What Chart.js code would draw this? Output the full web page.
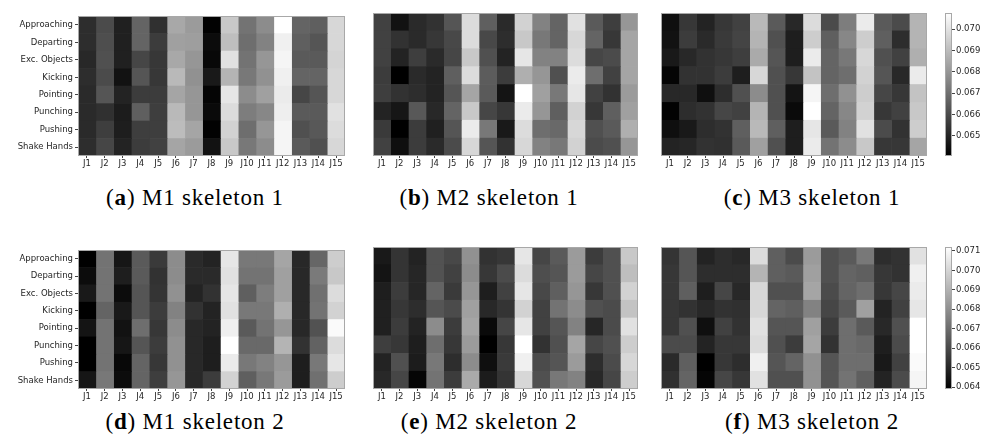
<!DOCTYPE html>
<html>
<head>
<meta charset="utf-8">
<script src="https://cdn.jsdelivr.net/npm/chart.js@4.4.1/dist/chart.umd.min.js"></script>
<style>
  body { margin: 0; background: #fff; width: 988px; height: 443px; position: relative; overflow: hidden; }
  canvas { position: absolute; }
  .cap { position: absolute; width: 320px; text-align: center; font-family: "Liberation Serif", serif; font-size: 23px; line-height: 23px; letter-spacing: 0.8px; color: #000; white-space: nowrap; }
</style>
</head>
<body>
<canvas id="hmA" width="349" height="163" style="left:0px;top:9px"></canvas>
<canvas id="hmB" width="273" height="163" style="left:369px;top:9px"></canvas>
<canvas id="hmC" width="274" height="163" style="left:657px;top:9px"></canvas>
<canvas id="cb1" width="43" height="159" style="left:945px;top:5px"></canvas>
<canvas id="hmD" width="349" height="162" style="left:0px;top:243px"></canvas>
<canvas id="hmE" width="273" height="162" style="left:369px;top:243px"></canvas>
<canvas id="hmF" width="274" height="162" style="left:657px;top:243px"></canvas>
<canvas id="cb2" width="43" height="158" style="left:945px;top:239px"></canvas>

<div class="cap" style="left:35px;top:186px">(<b>a</b>) M1 skeleton 1</div>
<div class="cap" style="left:329px;top:186px">(<b>b</b>) M2 skeleton 1</div>
<div class="cap" style="left:652px;top:186px">(<b>c</b>) M3 skeleton 1</div>
<div class="cap" style="left:35px;top:410px">(<b>d</b>) M1 skeleton 2</div>
<div class="cap" style="left:329px;top:410px">(<b>e</b>) M2 skeleton 2</div>
<div class="cap" style="left:652px;top:410px">(<b>f</b>) M3 skeleton 2</div>

<script>
// etiquetas
const rowLabels = ['Approaching', 'Departing', 'Exc. Objects', 'Kicking', 'Pointing', 'Punching', 'Pushing', 'Shake Hands'];
const colLabels = ['J1', 'J2', 'J3', 'J4', 'J5', 'J6', 'J7', 'J8', 'J9', 'J10', 'J11', 'J12', 'J13', 'J14', 'J15'];

// rango de color de cada fila de la figura + ticks de la barra
const range1 = [0.06405, 0.07075];
const range2 = [0.0639, 0.0712];
const cbarTicks1 = [0.065, 0.066, 0.067, 0.068, 0.069, 0.070];
const cbarTicks2 = [0.064, 0.065, 0.066, 0.067, 0.068, 0.069, 0.070, 0.071];

// M1 skeleton 1 (una fila por accion, J1..J15)
const m1s1 = [
  [0.06523, 0.06602, 0.06489, 0.06668, 0.06531, 0.06846, 0.06812, 0.06410, 0.06930, 0.06707, 0.06773, 0.07075, 0.06668, 0.06655, 0.06970],
  [0.06523, 0.06610, 0.06489, 0.06668, 0.06563, 0.06825, 0.06820, 0.06437, 0.06904, 0.06694, 0.06747, 0.07035, 0.06655, 0.06628, 0.06970],
  [0.06510, 0.06615, 0.06489, 0.06589, 0.06549, 0.06846, 0.06799, 0.06426, 0.06996, 0.06707, 0.06799, 0.07049, 0.06641, 0.06641, 0.06962],
  [0.06523, 0.06602, 0.06452, 0.06628, 0.06549, 0.06891, 0.06786, 0.06471, 0.06878, 0.06720, 0.06786, 0.07035, 0.06668, 0.06668, 0.06970],
  [0.06515, 0.06628, 0.06497, 0.06563, 0.06563, 0.06838, 0.06799, 0.06418, 0.07009, 0.06773, 0.06825, 0.07022, 0.06589, 0.06628, 0.06970],
  [0.06515, 0.06531, 0.06479, 0.06655, 0.06568, 0.06891, 0.06799, 0.06431, 0.06983, 0.06733, 0.06760, 0.07030, 0.06641, 0.06641, 0.06996],
  [0.06515, 0.06568, 0.06484, 0.06568, 0.06568, 0.06899, 0.06838, 0.06410, 0.06957, 0.06694, 0.06799, 0.07049, 0.06615, 0.06636, 0.06983],
  [0.06523, 0.06589, 0.06497, 0.06563, 0.06576, 0.06838, 0.06812, 0.06452, 0.06930, 0.06720, 0.06773, 0.07049, 0.06641, 0.06615, 0.06970]
];

// M2 skeleton 1
const m2s1 = [
  [0.06576, 0.06452, 0.06515, 0.06536, 0.06628, 0.06983, 0.06655, 0.06515, 0.06957, 0.06747, 0.06668, 0.06996, 0.06641, 0.06568, 0.06799],
  [0.06576, 0.06536, 0.06515, 0.06549, 0.06594, 0.06983, 0.06594, 0.06523, 0.06930, 0.06720, 0.06668, 0.06970, 0.06668, 0.06549, 0.06838],
  [0.06576, 0.06497, 0.06568, 0.06515, 0.06589, 0.06930, 0.06615, 0.06497, 0.07009, 0.06747, 0.06747, 0.06983, 0.06589, 0.06602, 0.06838],
  [0.06563, 0.06405, 0.06515, 0.06497, 0.06655, 0.06983, 0.06647, 0.06563, 0.06865, 0.06799, 0.06615, 0.07022, 0.06694, 0.06576, 0.06838],
  [0.06568, 0.06536, 0.06523, 0.06497, 0.06628, 0.06838, 0.06641, 0.06458, 0.07075, 0.06825, 0.06720, 0.07009, 0.06576, 0.06536, 0.06812],
  [0.06497, 0.06463, 0.06636, 0.06510, 0.06668, 0.06930, 0.06589, 0.06549, 0.07022, 0.06799, 0.06655, 0.06957, 0.06549, 0.06655, 0.06825],
  [0.06557, 0.06405, 0.06563, 0.06489, 0.06628, 0.07022, 0.06720, 0.06471, 0.06983, 0.06694, 0.06681, 0.06970, 0.06615, 0.06641, 0.06865],
  [0.06576, 0.06444, 0.06563, 0.06515, 0.06602, 0.06970, 0.06628, 0.06536, 0.06970, 0.06747, 0.06720, 0.06957, 0.06602, 0.06615, 0.06799]
];

// M3 skeleton 1
const m3s1 = [
  [0.06444, 0.06549, 0.06497, 0.06549, 0.06576, 0.06891, 0.06641, 0.06510, 0.06983, 0.06602, 0.06733, 0.07022, 0.06641, 0.06602, 0.06878],
  [0.06452, 0.06563, 0.06515, 0.06557, 0.06584, 0.06878, 0.06615, 0.06484, 0.06944, 0.06655, 0.06760, 0.06944, 0.06655, 0.06523, 0.06878],
  [0.06471, 0.06510, 0.06536, 0.06549, 0.06568, 0.06852, 0.06628, 0.06484, 0.07022, 0.06668, 0.06720, 0.06970, 0.06615, 0.06576, 0.06865],
  [0.06418, 0.06536, 0.06536, 0.06563, 0.06484, 0.06970, 0.06615, 0.06549, 0.06917, 0.06668, 0.06694, 0.06957, 0.06628, 0.06510, 0.07022],
  [0.06510, 0.06510, 0.06444, 0.06523, 0.06615, 0.06773, 0.06615, 0.06458, 0.07049, 0.06694, 0.06786, 0.06944, 0.06589, 0.06549, 0.06917],
  [0.06410, 0.06523, 0.06536, 0.06589, 0.06576, 0.06878, 0.06615, 0.06431, 0.07075, 0.06668, 0.06760, 0.06957, 0.06549, 0.06576, 0.06930],
  [0.06444, 0.06471, 0.06523, 0.06536, 0.06655, 0.06891, 0.06655, 0.06484, 0.07009, 0.06641, 0.06747, 0.06996, 0.06602, 0.06536, 0.06944],
  [0.06497, 0.06505, 0.06536, 0.06531, 0.06641, 0.06825, 0.06615, 0.06484, 0.07022, 0.06707, 0.06773, 0.06930, 0.06549, 0.06549, 0.06838]
];

// M1 skeleton 2
const m1s2 = [
  [0.06390, 0.06719, 0.06453, 0.06648, 0.06556, 0.06791, 0.06510, 0.06490, 0.07049, 0.06734, 0.06734, 0.06862, 0.06505, 0.06682, 0.06977],
  [0.06424, 0.06719, 0.06476, 0.06648, 0.06533, 0.06791, 0.06510, 0.06510, 0.07034, 0.06719, 0.06719, 0.06848, 0.06505, 0.06739, 0.06963],
  [0.06462, 0.06719, 0.06424, 0.06633, 0.06539, 0.06805, 0.06490, 0.06533, 0.07049, 0.06662, 0.06748, 0.06848, 0.06505, 0.06711, 0.07020],
  [0.06390, 0.06676, 0.06462, 0.06633, 0.06562, 0.06762, 0.06533, 0.06490, 0.07034, 0.06734, 0.06734, 0.06891, 0.06505, 0.06719, 0.06991],
  [0.06447, 0.06719, 0.06442, 0.06705, 0.06547, 0.06791, 0.06505, 0.06490, 0.07077, 0.06648, 0.06719, 0.06819, 0.06505, 0.06625, 0.07106],
  [0.06390, 0.06719, 0.06453, 0.06633, 0.06562, 0.06805, 0.06505, 0.06476, 0.07120, 0.06691, 0.06691, 0.06905, 0.06533, 0.06671, 0.07020],
  [0.06390, 0.06719, 0.06413, 0.06676, 0.06547, 0.06805, 0.06505, 0.06476, 0.07063, 0.06734, 0.06762, 0.06819, 0.06476, 0.06734, 0.07049],
  [0.06453, 0.06734, 0.06424, 0.06676, 0.06568, 0.06819, 0.06505, 0.06562, 0.06991, 0.06662, 0.06734, 0.06834, 0.06476, 0.06711, 0.06977]
];

// M2 skeleton 2
const m2s2 = [
  [0.06462, 0.06539, 0.06490, 0.06625, 0.06596, 0.06805, 0.06533, 0.06547, 0.07049, 0.06590, 0.06648, 0.06834, 0.06562, 0.06619, 0.06963],
  [0.06447, 0.06539, 0.06499, 0.06625, 0.06576, 0.06791, 0.06547, 0.06605, 0.07020, 0.06613, 0.06633, 0.06834, 0.06590, 0.06619, 0.06934],
  [0.06476, 0.06562, 0.06499, 0.06676, 0.06556, 0.06819, 0.06476, 0.06576, 0.07049, 0.06596, 0.06662, 0.06819, 0.06547, 0.06619, 0.06991],
  [0.06482, 0.06547, 0.06519, 0.06633, 0.06605, 0.06848, 0.06505, 0.06539, 0.06991, 0.06576, 0.06719, 0.06791, 0.06619, 0.06605, 0.06948],
  [0.06482, 0.06562, 0.06490, 0.06791, 0.06562, 0.06862, 0.06419, 0.06590, 0.07049, 0.06576, 0.06633, 0.06762, 0.06499, 0.06605, 0.07034],
  [0.06568, 0.06547, 0.06476, 0.06705, 0.06547, 0.06834, 0.06390, 0.06547, 0.07120, 0.06533, 0.06619, 0.06862, 0.06590, 0.06619, 0.06977],
  [0.06490, 0.06619, 0.06470, 0.06734, 0.06519, 0.06791, 0.06433, 0.06556, 0.07077, 0.06605, 0.06633, 0.06834, 0.06519, 0.06605, 0.07006],
  [0.06505, 0.06590, 0.06404, 0.06719, 0.06562, 0.06877, 0.06470, 0.06539, 0.07006, 0.06619, 0.06734, 0.06762, 0.06505, 0.06590, 0.06977]
];

// M3 skeleton 2
const m3s2 = [
  [0.06539, 0.06633, 0.06490, 0.06519, 0.06505, 0.07020, 0.06662, 0.06605, 0.06834, 0.06619, 0.06648, 0.06734, 0.06519, 0.06533, 0.07034],
  [0.06547, 0.06633, 0.06519, 0.06519, 0.06519, 0.06905, 0.06662, 0.06648, 0.06848, 0.06619, 0.06676, 0.06662, 0.06547, 0.06533, 0.07077],
  [0.06547, 0.06662, 0.06476, 0.06590, 0.06505, 0.07006, 0.06619, 0.06619, 0.06862, 0.06605, 0.06676, 0.06705, 0.06547, 0.06590, 0.07063],
  [0.06547, 0.06533, 0.06505, 0.06533, 0.06527, 0.07006, 0.06676, 0.06662, 0.06762, 0.06590, 0.06648, 0.06848, 0.06490, 0.06576, 0.07049],
  [0.06547, 0.06619, 0.06433, 0.06576, 0.06533, 0.07034, 0.06633, 0.06633, 0.06848, 0.06562, 0.06705, 0.06648, 0.06505, 0.06619, 0.07120],
  [0.06605, 0.06605, 0.06490, 0.06547, 0.06547, 0.07020, 0.06619, 0.06562, 0.06862, 0.06533, 0.06705, 0.06691, 0.06476, 0.06605, 0.07120],
  [0.06510, 0.06662, 0.06390, 0.06547, 0.06519, 0.07077, 0.06633, 0.06676, 0.06805, 0.06633, 0.06705, 0.06705, 0.06462, 0.06576, 0.07106],
  [0.06527, 0.06676, 0.06404, 0.06590, 0.06547, 0.07034, 0.06619, 0.06619, 0.06805, 0.06633, 0.06719, 0.06662, 0.06490, 0.06605, 0.07091]
];

const tickFont = { family: 'DejaVu Sans', size: 8.5 };
const tickColor = '#262626';

// mapa de grises como el 'gray' de matplotlib
function gris(v, rango) {
  let t = (v - rango[0]) / (rango[1] - rango[0]);
  t = Math.max(0, Math.min(1, t));
  const g = Math.round(t * 255);
  return `rgb(${g}, ${g}, ${g})`;
}

// marco gris alrededor del area
const marco = {
  id: 'marco',
  afterDatasetsDraw(chart) {
    const a = chart.chartArea;
    const ctx = chart.ctx;
    ctx.save();
    ctx.strokeStyle = '#a8a8a8';
    ctx.lineWidth = 1;
    ctx.strokeRect(Math.round(a.left) + 0.5, Math.round(a.top) + 0.5, Math.round(a.right - a.left) - 1, Math.round(a.bottom - a.top) - 1);
    ctx.restore();
  }
};

function crearHeatmap(id, matriz, rango, conFilas) {
  const anchoY = conFilas ? 78 : 0;
  return new Chart(document.getElementById(id), {
    type: 'bar',
    data: {
      labels: rowLabels,
      datasets: colLabels.map((c, j) => ({
        label: c,
        data: matriz.map(() => 1),
        backgroundColor: matriz.map(fila => gris(fila[j], rango)),
        borderWidth: 0,
        barPercentage: 1,
        categoryPercentage: 1
      }))
    },
    options: {
      indexAxis: 'y',
      responsive: false,
      animation: false,
      events: [],
      layout: { padding: { left: conFilas ? 0 : 4, right: 4, top: 4, bottom: 0 } },
      plugins: { legend: { display: false }, tooltip: { enabled: false } },
      scales: {
        x: { type: 'linear', stacked: true, min: 0, max: colLabels.length, display: false },
        j: {
          type: 'category',
          axis: 'x',
          position: 'bottom',
          labels: colLabels,
          offset: true,
          border: { display: false },
          grid: { offset: false, drawOnChartArea: false, tickLength: 2, color: '#444' },
          ticks: { font: tickFont, color: tickColor, padding: 1, autoSkip: false, maxRotation: 0 },
          afterFit: s => { s.height = 16; }
        },
        y: {
          stacked: true,
          display: conFilas,
          border: { display: false },
          grid: { offset: false, drawOnChartArea: false, tickLength: 3, color: '#444' },
          ticks: { font: tickFont, color: tickColor, padding: 2 },
          afterFit: s => { s.width = anchoY; }
        }
      }
    },
    plugins: [marco]
  });
}

function crearBarraColor(id, rango, marcas) {
  return new Chart(document.getElementById(id), {
    type: 'bar',
    data: {
      labels: [''],
      datasets: [{
        data: [rango],
        backgroundColor: ctx => {
          const a = ctx.chart.chartArea;
          if (!a) return '#888';
          const g = ctx.chart.ctx.createLinearGradient(0, a.bottom, 0, a.top);
          g.addColorStop(0, '#000');
          g.addColorStop(1, '#fff');
          return g;
        },
        borderWidth: 0,
        barPercentage: 1,
        categoryPercentage: 1
      }]
    },
    options: {
      responsive: false,
      animation: false,
      events: [],
      layout: { padding: { left: 0, right: 0, top: 8, bottom: 8 } },
      plugins: { legend: { display: false }, tooltip: { enabled: false } },
      scales: {
        x: { display: false },
        y: {
          position: 'right',
          min: rango[0],
          max: rango[1],
          afterBuildTicks: s => { s.ticks = marcas.map(v => ({ value: v })); },
          border: { display: false },
          grid: { drawOnChartArea: false, tickLength: 3, color: '#444' },
          ticks: { font: tickFont, color: tickColor, padding: 1, callback: v => v.toFixed(3) },
          afterFit: s => { s.width = 36; }
        }
      }
    },
    plugins: [marco]
  });
}

crearHeatmap('hmA', m1s1, range1, true);
crearHeatmap('hmB', m2s1, range1, false);
crearHeatmap('hmC', m3s1, range1, false);
crearBarraColor('cb1', range1, cbarTicks1);
crearHeatmap('hmD', m1s2, range2, true);
crearHeatmap('hmE', m2s2, range2, false);
crearHeatmap('hmF', m3s2, range2, false);
crearBarraColor('cb2', range2, cbarTicks2);
</script>
</body>
</html>
